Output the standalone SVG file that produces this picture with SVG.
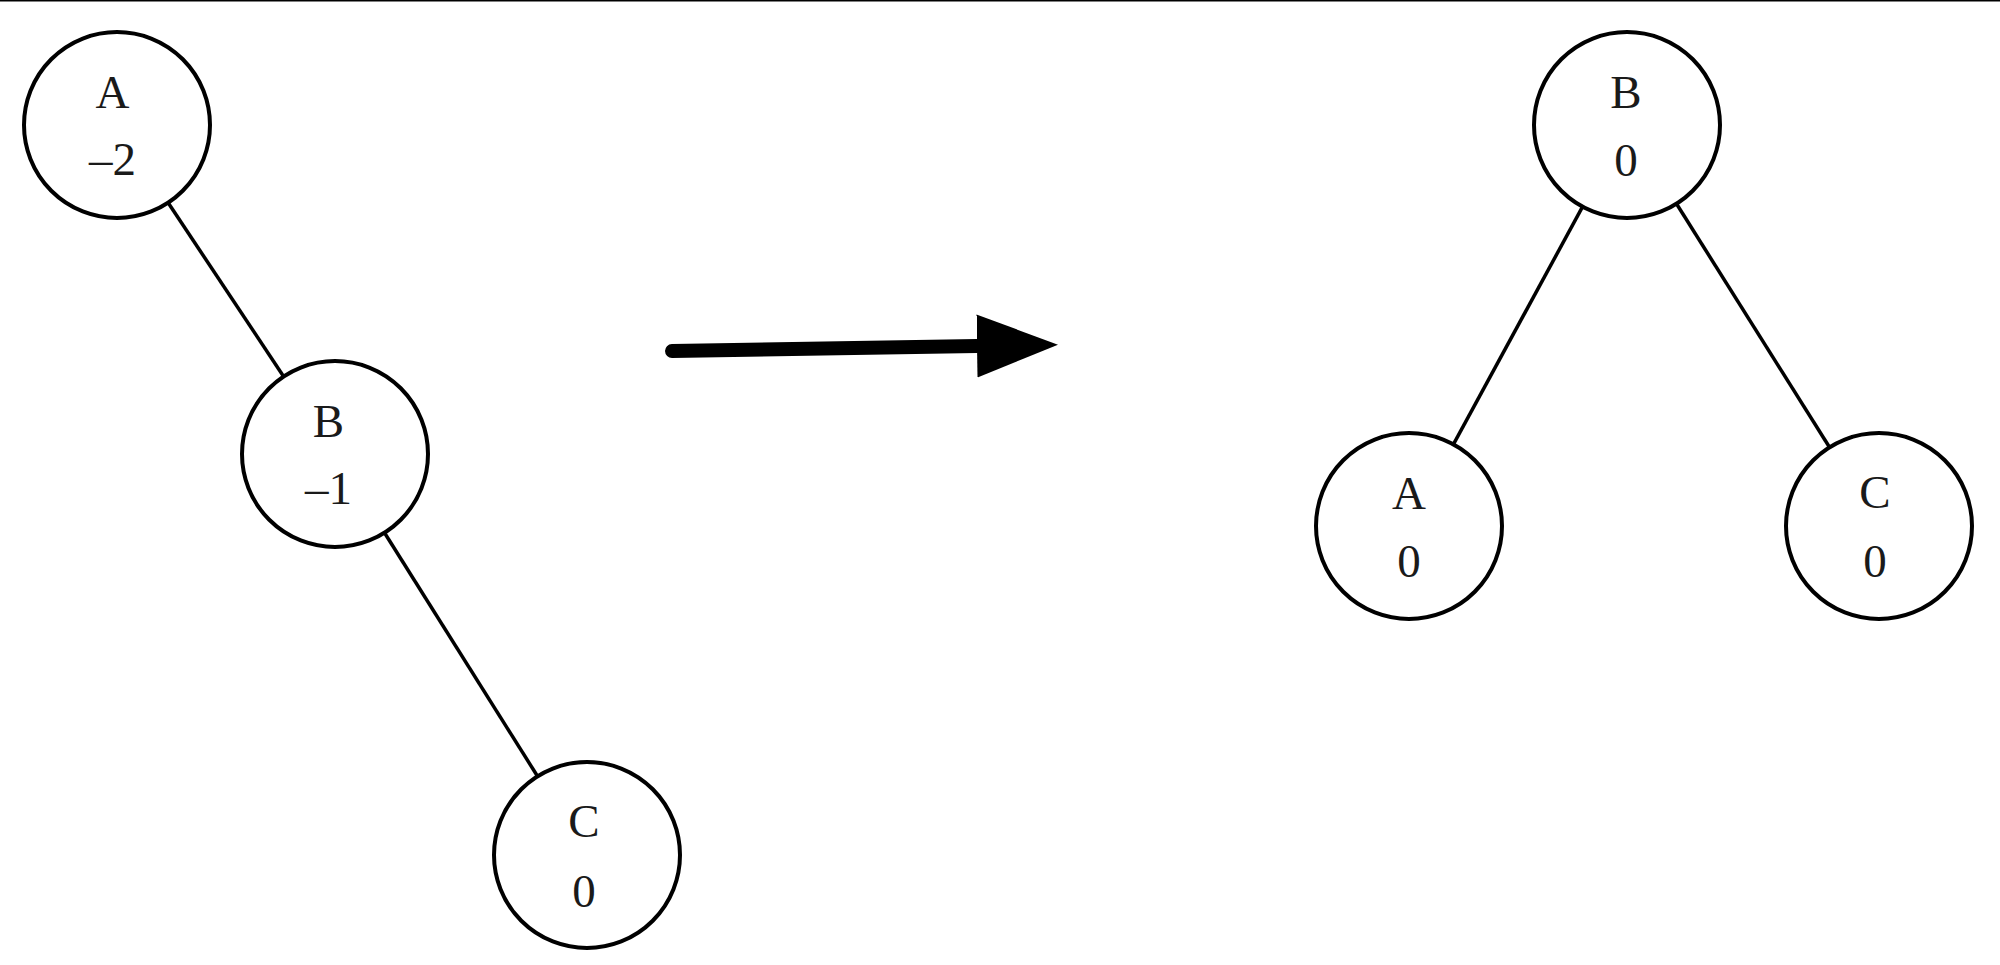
<svg xmlns="http://www.w3.org/2000/svg" width="2000" height="965" viewBox="0 0 2000 965">
  <style>
    .node circle { fill: #ffffff; stroke: #000000; stroke-width: 4; }
    .node text { font-family: "Liberation Serif", "Times New Roman", serif; font-size: 47px; fill: #1a1a1a; text-anchor: middle; }
    .edge { stroke: #000000; stroke-width: 3.5; fill: none; }
    .big-arrow { stroke: #000000; stroke-width: 14; stroke-linecap: round; fill: none; }
  </style>
  <defs>
    <marker id="head" markerUnits="userSpaceOnUse" markerWidth="82" markerHeight="64" refX="0" refY="31.5" orient="auto">
      <path d="M0,0 L81,31.5 L0,63 Z" fill="#000000"/>
    </marker>
  </defs>
  <rect x="0" y="0" width="2000" height="965" fill="#ffffff"/>
  <line x1="0" y1="0.5" x2="2000" y2="0.5" stroke="#000000" stroke-width="2"/>

  <g id="connectors">
    <line class="edge" x1="168" y1="202.5" x2="283.6" y2="376.5"/>
    <line class="edge" x1="384.5" y1="532.8" x2="537.5" y2="776.2"/>
    <line class="edge" x1="1582.6" y1="206.7" x2="1453.4" y2="444.3"/>
    <line class="edge" x1="1676.5" y1="203.8" x2="1829.5" y2="447.2"/>
    <line class="big-arrow" x1="672" y1="351" x2="977" y2="346" marker-end="url(#head)"/>
  </g>

  <g id="left-A" class="node">
    <circle cx="117" cy="125" r="93"/>
    <text x="112.5" y="108">A</text>
    <text x="112.5" y="175">–2</text>
  </g>
  <g id="left-B" class="node">
    <circle cx="335" cy="454" r="93"/>
    <text x="328.5" y="437">B</text>
    <text x="328.5" y="504">–1</text>
  </g>
  <g id="left-C" class="node">
    <circle cx="587" cy="855" r="93"/>
    <text x="584" y="837">C</text>
    <text x="584" y="907">0</text>
  </g>

  <g id="right-B" class="node">
    <circle cx="1627" cy="125" r="93"/>
    <text x="1626" y="108">B</text>
    <text x="1626" y="176">0</text>
  </g>
  <g id="right-A" class="node">
    <circle cx="1409" cy="526" r="93"/>
    <text x="1409" y="509">A</text>
    <text x="1409" y="577">0</text>
  </g>
  <g id="right-C" class="node">
    <circle cx="1879" cy="526" r="93"/>
    <text x="1875" y="508">C</text>
    <text x="1875" y="577">0</text>
  </g>
</svg>
